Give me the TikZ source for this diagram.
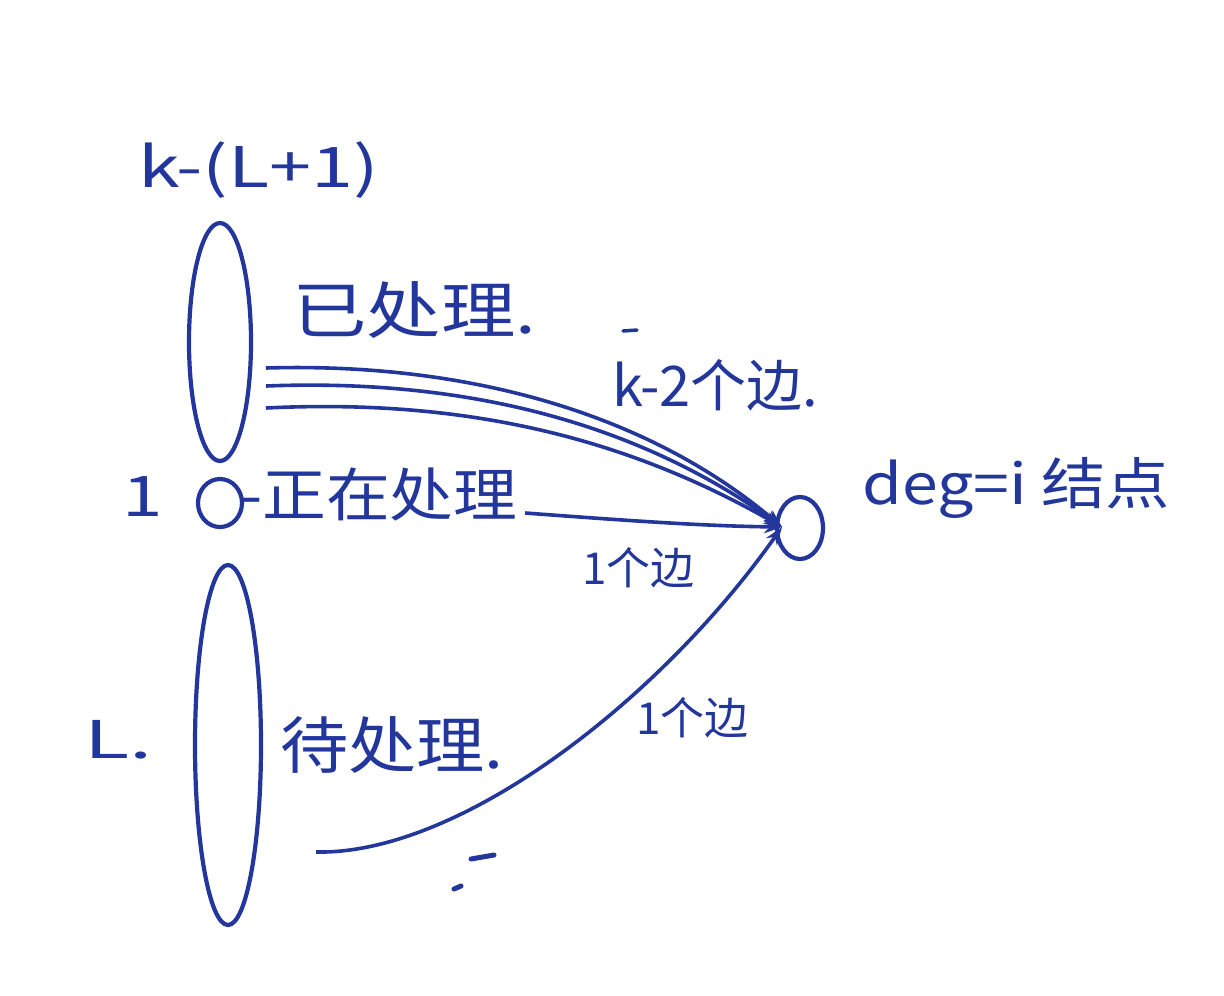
\documentclass[tikz,border=0pt]{standalone}
\usepackage{fontspec}
\setmainfont{Noto Sans CJK SC}
\usetikzlibrary{arrows.meta,shapes.geometric}
\definecolor{inkc}{HTML}{22369C}
\tikzset{
  inkline/.style={draw=inkc, line width=4.2pt},
  lbl/.style={text=inkc, font=\fontsize{42}{48}\selectfont, inner sep=0pt, anchor=west},
  fsz/.style={font=\fontsize{#1}{#1}\selectfont},
  edge/.style={inkline, line width=3.6pt, -{Stealth[length=18pt,width=13pt]}},
}
\begin{document}
\begin{tikzpicture}[x=1pt,y=-1pt]
\useasboundingbox (0,0) rectangle (1224,996);
\fill[white] (0,0) rectangle (1224,996);
% sets
\node[inkline, ellipse, minimum width=62pt, minimum height=238pt, inner sep=0pt] (done) at (220,342) {};
\node[inkline, ellipse, minimum width=44pt, minimum height=48pt, inner sep=0pt] (cur) at (220,503) {};
\node[inkline, ellipse, minimum width=66pt, minimum height=360pt, inner sep=0pt] (todo) at (228,745) {};
\node[inkline, ellipse, minimum width=46pt, minimum height=62pt, inner sep=0pt] (tgt) at (800,528) {};
% labels
\node[lbl, fsz=56, xscale=1.35] (ktop) at (138,170) {k-(L+1)};
\node[lbl, fsz=62, xscale=1.2] (lyi) at (292,310) {已处理.};
\node[lbl, fsz=56] (lk2) at (612,385) {k-2个边.};
\node[lbl, fsz=56, xscale=1.15] (ldeg) at (862,488) {deg=i 结点};
\node[lbl, fsz=56, xscale=1.3] (lone) at (122,497) {1};
\node[lbl, fsz=58, xscale=1.1] (lzai) at (240,494) {-正在处理};
\node[lbl, fsz=44] (le1) at (582,568) {1个边};
\node[lbl, fsz=44] (le2) at (636,718) {1个边};
\node[lbl, fsz=52, xscale=1.6] (lL) at (84,740) {L.};
\node[lbl, fsz=62, xscale=1.1] (ldai) at (280,745) {待处理.};
% edge start points
\coordinate (s1) at (266,368);
\coordinate (s2) at (266,386);
\coordinate (s3) at (266,408);
\coordinate (s4) at (525,513);
\coordinate (s5) at (316,852);
\coordinate (t) at (782,527);
\draw[edge] (s1) .. controls (470,362) and (650,415) .. (t);
\draw[edge] (s2) .. controls (470,378) and (640,425) .. (t);
\draw[edge] (s3) .. controls (470,398) and (630,440) .. (t);
\draw[edge] (s4) .. controls (620,520) and (700,526) .. (t);
\draw[edge] (s5) .. controls (460,855) and (660,700) .. (t);
% stray pen marks
\draw[inkline, line width=3.5pt, line cap=round] (623,331) -- (637,330);
\draw[inkline, line width=5pt, line cap=round] (471,859) -- (494,855);
\draw[inkline, line width=5pt, line cap=round] (454,889) -- (461,886);
\end{tikzpicture}
\end{document}
